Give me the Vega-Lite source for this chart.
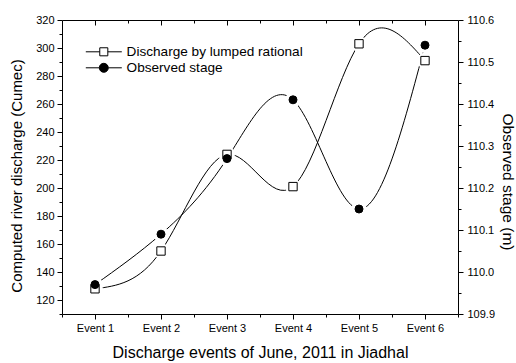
{
  "$schema": "https://vega.github.io/schema/vega-lite/v6.json",
  "width": 396,
  "height": 294,
  "autosize": {"type": "none"},
  "padding": {"left": 62, "top": 20, "right": 58, "bottom": 49},
  "background": "white",
  "config": {
    "view": {"stroke": "black", "strokeWidth": 1},
    "font": "Liberation Sans",
    "axis": {
      "domain": false,
      "grid": false,
      "tickColor": "black",
      "tickWidth": 1,
      "labelColor": "black",
      "labelFont": "Liberation Sans",
      "labelFontSize": 11,
      "labelFlush": false,
      "labelOverlap": false,
      "titleColor": "black",
      "titleFont": "Liberation Sans",
      "titleFontWeight": "normal"
    },
    "legend": {
      "orient": "none",
      "labelFont": "Liberation Sans",
      "labelFontSize": 13.6,
      "labelColor": "black",
      "labelLimit": 400,
      "labelOffset": 16,
      "rowPadding": 1,
      "symbolSize": 144,
      "symbolStrokeWidth": 1,
      "symbolOpacity": 1
    }
  },
  "data": {
    "values": [
      {"event": 1, "discharge": 128, "stage": 109.97},
      {"event": 2, "discharge": 155, "stage": 110.09},
      {"event": 3, "discharge": 224, "stage": 110.27},
      {"event": 4, "discharge": 201, "stage": 110.41},
      {"event": 5, "discharge": 303, "stage": 110.15},
      {"event": 6, "discharge": 291, "stage": 110.54}
    ]
  },
  "resolve": {
    "scale": {"y": "independent"},
    "axis": {"x": "independent", "y": "independent"}
  },
  "layer": [
    {
      "mark": {"type": "line", "interpolate": "natural", "color": "black", "strokeWidth": 1},
      "encoding": {
        "x": {
          "field": "event", "type": "quantitative",
          "scale": {"domain": [0.5, 6.5], "nice": false, "zero": false},
          "axis": {
            "orient": "bottom", "values": [1, 2, 3, 4, 5, 6],
            "labelExpr": "'Event ' + datum.value",
            "tickSize": 5, "labelPadding": 3,
            "title": "Discharge events of June, 2011 in Jiadhal",
            "titleFontSize": 16, "titleBaseline": "alphabetic",
            "titleX": 198, "titleY": 43.5
          }
        },
        "y": {
          "field": "discharge", "type": "quantitative",
          "scale": {"domain": [110, 320], "nice": false, "zero": false},
          "axis": {
            "orient": "left",
            "values": [120, 140, 160, 180, 200, 220, 240, 260, 280, 300, 320],
            "tickSize": 5, "labelPadding": 3,
            "title": "Computed river discharge (Cumec)",
            "titleFontSize": 15, "titleAngle": -90, "titleBaseline": "alphabetic",
            "titleX": -41, "titleY": 155.5
          }
        }
      }
    },
    {
      "mark": {"type": "line", "interpolate": "natural", "color": "black", "strokeWidth": 1},
      "encoding": {
        "x": {"field": "event", "type": "quantitative", "scale": {"domain": [0.5, 6.5], "nice": false, "zero": false}, "axis": null},
        "y": {
          "field": "stage", "type": "quantitative",
          "scale": {"domain": [109.9, 110.6], "nice": false, "zero": false},
          "axis": {
            "orient": "right",
            "values": [109.9, 110.0, 110.1, 110.2, 110.3, 110.4, 110.5, 110.6],
            "format": ".1f",
            "tickSize": 5, "labelPadding": 4,
            "title": "Observed stage (m)",
            "titleFontSize": 15.5, "titleAngle": 90, "titleBaseline": "alphabetic",
            "titleX": 44.5, "titleY": 161.5
          }
        }
      }
    },
    {
      "mark": {"type": "point", "shape": "circle", "filled": true, "color": "white", "opacity": 1, "size": 250},
      "encoding": {
        "x": {
          "field": "event", "type": "quantitative",
          "scale": {"domain": [0.5, 6.5], "nice": false, "zero": false},
          "axis": {"orient": "bottom", "values": [0.5, 1.5, 2.5, 3.5, 4.5, 5.5, 6.5], "labels": false, "tickSize": 3, "title": null}
        },
        "y": {
          "field": "discharge", "type": "quantitative",
          "scale": {"domain": [110, 320], "nice": false, "zero": false},
          "axis": {"orient": "left", "values": [110, 130, 150, 170, 190, 210, 230, 250, 270, 290, 310], "labels": false, "tickSize": 3, "title": null}
        }
      }
    },
    {
      "mark": {"type": "point", "shape": "circle", "filled": true, "color": "white", "opacity": 1, "size": 240},
      "encoding": {
        "x": {
          "field": "event", "type": "quantitative",
          "scale": {"domain": [0.5, 6.5], "nice": false, "zero": false},
          "axis": {"orient": "bottom", "offset": -294, "values": [1, 2, 3, 4, 5, 6], "labels": false, "tickSize": 5, "title": null}
        },
        "y": {
          "field": "stage", "type": "quantitative",
          "scale": {"domain": [109.9, 110.6], "nice": false, "zero": false},
          "axis": {"orient": "right", "values": [109.95, 110.05, 110.15, 110.25, 110.35, 110.45, 110.55], "labels": false, "tickSize": 3, "title": null}
        }
      }
    },
    {
      "mark": {"type": "point", "shape": "square", "filled": true, "fill": "white", "stroke": "black", "strokeWidth": 1, "opacity": 1, "size": 70},
      "encoding": {
        "x": {
          "field": "event", "type": "quantitative",
          "scale": {"domain": [0.5, 6.5], "nice": false, "zero": false},
          "axis": {"orient": "bottom", "offset": -294, "values": [1.5, 2.5, 3.5, 4.5, 5.5], "labels": false, "tickSize": 3, "title": null}
        },
        "y": {
          "field": "discharge", "type": "quantitative",
          "scale": {"domain": [110, 320], "nice": false, "zero": false},
          "axis": null
        }
      }
    },
    {
      "mark": {"type": "point", "shape": "circle", "filled": true, "fill": "black", "stroke": "black", "strokeWidth": 1, "opacity": 1, "size": 64},
      "encoding": {
        "x": {"field": "event", "type": "quantitative", "scale": {"domain": [0.5, 6.5], "nice": false, "zero": false}, "axis": null},
        "y": {
          "field": "stage", "type": "quantitative",
          "scale": {"domain": [109.9, 110.6], "nice": false, "zero": false},
          "axis": null
        }
      }
    },
    {
      "transform": [{"filter": "false"}, {"calculate": "'Observed stage'", "as": "series"}],
      "mark": {"type": "point", "filled": false, "stroke": "black", "strokeWidth": 1, "opacity": 1},
      "encoding": {
        "x": {"field": "event", "type": "quantitative", "scale": {"domain": [0.5, 6.5], "nice": false, "zero": false}, "axis": null},
        "y": {
          "field": "discharge", "type": "quantitative",
          "scale": {"domain": [110, 320], "nice": false, "zero": false},
          "axis": null
        },
        "shape": {
          "field": "series", "type": "nominal",
          "scale": {
            "domain": ["Discharge by lumped rational", "Observed stage"],
            "range": [
              "M-3,0H-0.67M0.67,0H3M-0.67,-0.67H0.67V0.67H-0.67Z",
              "M-3,0H-0.75M0.75,0H3M-0.75,0A0.75,0.75 0 1 0 0.75,0A0.75,0.75 0 1 0 -0.75,0Z"
            ]
          },
          "legend": {
            "legendX": 35, "legendY": 25, "title": null,
            "encode": {"symbols": {"stroke": {"value": "black"}, "strokeWidth": {"value": 1}}}
          }
        },
        "fill": {
          "field": "series", "type": "nominal",
          "scale": {
            "domain": ["Discharge by lumped rational", "Observed stage"],
            "range": ["white", "black"]
          },
          "legend": {
            "legendX": 35, "legendY": 25, "title": null,
            "encode": {"symbols": {"stroke": {"value": "black"}, "strokeWidth": {"value": 1}}}
          }
        }
      }
    }
  ]
}
